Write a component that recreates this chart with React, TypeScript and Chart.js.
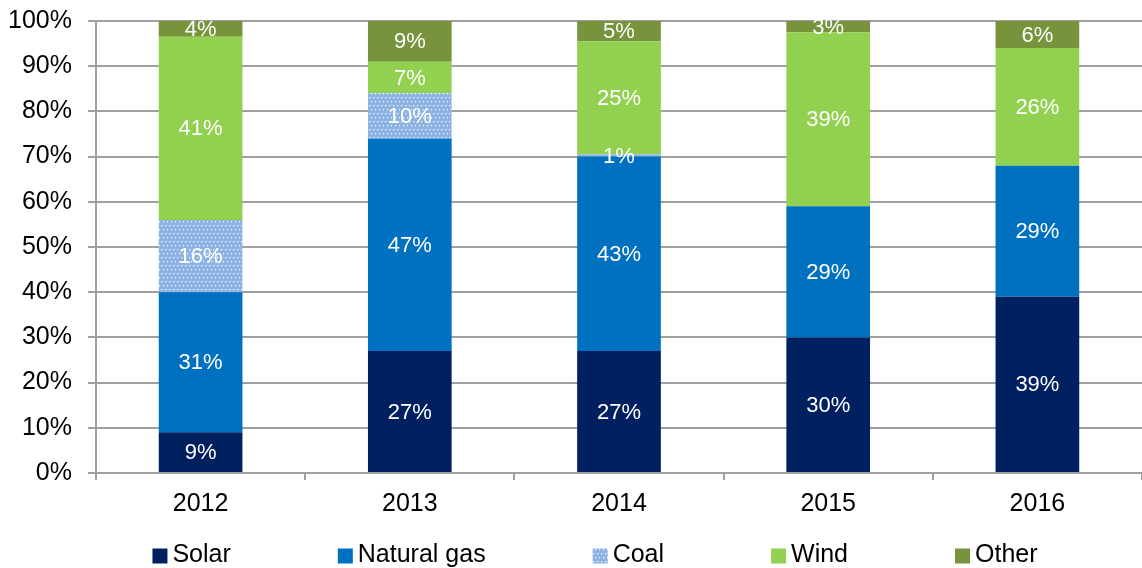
import React, { useEffect, useRef } from "react";
import { Chart, registerables } from "chart.js";

Chart.register(...registerables);

const categories = ["2012", "2013", "2014", "2015", "2016"];
const solar = [9, 27, 27, 30, 39];
const naturalGas = [31, 47, 43, 29, 29];
const coal = [16, 10, 0.5, 0, 0];
const wind = [40.5, 7, 25, 38.5, 26];
const other = [3.5, 9, 4.5, 2.5, 6];
const seriesNames = ["Solar", "Natural gas", "Coal", "Wind", "Other"];

const FONT = '"Liberation Sans", Arial, Helvetica, sans-serif';
const GRID = "#A0A0A0";

function makeCoalPattern(): CanvasPattern | string {
  const c = document.createElement("canvas");
  c.width = 8;
  c.height = 8;
  const g = c.getContext("2d");
  if (!g) return "#8DB3E2";
  g.fillStyle = "#8DB3E2";
  g.fillRect(0, 0, 8, 8);
  const dots = [
    [1, 1],
    [5, 1],
    [3, 5],
    [7, 5],
  ];
  dots.forEach(([x, y]) => {
    g.fillStyle = "rgba(255,255,255,0.85)";
    g.fillRect(x, y, 1, 1);
    g.fillStyle = "rgba(255,255,255,0.3)";
    g.fillRect(x + 1, y, 1, 1);
    g.fillRect(x, y + 1, 1, 1);
  });
  const p = g.createPattern(c, "repeat");
  return p || "#8DB3E2";
}

const valueLabels = {
  id: "valueLabels",
  afterDatasetsDraw(chart: any) {
    const ctx = chart.ctx;
    ctx.save();
    ctx.font = `22px ${FONT}`;
    ctx.fillStyle = "#FFFFFF";
    ctx.textAlign = "center";
    ctx.textBaseline = "middle";
    chart.data.datasets.forEach((ds: any, di: number) => {
      const meta = chart.getDatasetMeta(di);
      meta.data.forEach((bar: any, i: number) => {
        const v = ds.data[i];
        if (!v) return;
        const y = (bar.y + bar.base) / 2;
        ctx.fillText(`${Math.round(v)}%`, bar.x, y + 1);
      });
    });
    ctx.restore();
  },
};

const customLegend = {
  id: "customLegend",
  afterDraw(chart: any) {
    const ctx = chart.ctx;
    ctx.save();
    ctx.font = `25px ${FONT}`;
    ctx.textBaseline = "middle";
    ctx.textAlign = "left";
    const box = 15;
    const boxGap = 5;
    const itemGap = 107;
    const items = chart.data.datasets.map((ds: any) => ({
      text: ds.label,
      color: ds.backgroundColor,
      w: box + boxGap + ctx.measureText(ds.label).width,
    }));
    const total =
      items.reduce((s: number, it: any) => s + it.w, 0) +
      itemGap * (items.length - 1);
    let x = chart.width / 2 + 24 - total / 2;
    const cy = chart.height - 13;
    items.forEach((it: any) => {
      ctx.fillStyle = it.color;
      ctx.fillRect(x, cy - box / 2 + 1, box, box);
      ctx.fillStyle = "#000000";
      ctx.fillText(it.text, x + box + boxGap, cy);
      x += it.w + itemGap;
    });
    ctx.restore();
  },
};

export default function App() {
  const ref = useRef<HTMLCanvasElement | null>(null);

  useEffect(() => {
    if (!ref.current) return;
    const coalFill = makeCoalPattern();
    const colors = ["#002060", "#0070C0", coalFill, "#92D050", "#77933C"];
    const values = [solar, naturalGas, coal, wind, other];
    const chart = new Chart(ref.current, {
      type: "bar",
      data: {
        labels: categories,
        datasets: values.map((d, i) => ({
          label: seriesNames[i],
          data: d,
          backgroundColor: colors[i] as any,
          borderWidth: 0,
          barPercentage: 0.4,
          categoryPercentage: 1,
        })),
      },
      options: {
        animation: false,
        responsive: true,
        maintainAspectRatio: false,
        layout: { padding: { left: 8, right: 0, top: 21, bottom: 40 } },
        plugins: {
          legend: { display: false },
          tooltip: { enabled: false },
        },
        scales: {
          x: {
            stacked: true,
            grid: {
              offset: true,
              drawOnChartArea: false,
              drawTicks: true,
              tickLength: 7,
              color: GRID,
              lineWidth: 2,
            },
            border: { display: true, color: GRID, width: 2 },
            ticks: { color: "#000", font: { size: 25, family: FONT }, padding: 9 },
          },
          y: {
            stacked: true,
            min: 0,
            max: 100,
            afterFit: (scale: any) => {
              scale.width = 88;
              scale.paddingTop = 0;
              scale.paddingBottom = 0;
            },
            grid: {
              color: GRID,
              lineWidth: 2,
              drawTicks: true,
              tickLength: 8,
            },
            border: { display: true, color: GRID, width: 2 },
            ticks: {
              stepSize: 10,
              color: "#000",
              font: { size: 25, family: FONT },
              padding: 16,
              callback: (v: any) => `${v}%`,
            },
          },
        },
      },
      plugins: [valueLabels, customLegend],
    });
    return () => chart.destroy();
  }, []);

  return (
    <div
      style={{
        position: "fixed",
        left: 0,
        top: 0,
        width: 1142,
        height: 568,
        background: "#fff",
      }}
    >
      <canvas ref={ref} />
    </div>
  );
}
